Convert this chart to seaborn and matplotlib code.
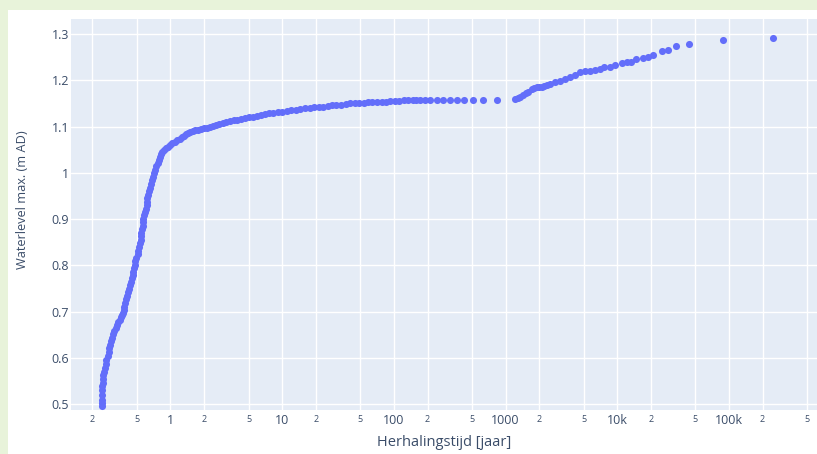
import matplotlib
matplotlib.use("Agg")
import matplotlib.pyplot as plt
from matplotlib.patches import Rectangle
from matplotlib.ticker import FixedLocator, FixedFormatter
import seaborn as sns
import pandas as pd

# Return period [years] and maximum water level [m AD]
return_period = [
    0.242, 0.2424, 0.243, 0.244, 0.245, 0.246, 0.247, 0.249, 0.251, 0.255,
    0.259, 0.263, 0.267, 0.273, 0.279, 0.283, 0.287, 0.293, 0.300, 0.306,
    0.312, 0.322, 0.332, 0.342, 0.353, 0.360, 0.368, 0.374, 0.380, 0.386,
    0.391, 0.399, 0.408, 0.416, 0.425, 0.434, 0.443, 0.450, 0.457, 0.464,
    0.471, 0.479, 0.486, 0.496, 0.507, 0.515, 0.522, 0.530, 0.539, 0.544,
    0.550, 0.556, 0.562, 0.567, 0.573, 0.582, 0.591, 0.600, 0.610, 0.616,
    0.622, 0.632, 0.642, 0.655, 0.669, 0.683, 0.697, 0.711, 0.727, 0.745,
    0.765, 0.785, 0.805, 0.826, 0.848,
    0.878, 0.911, 0.950, 0.990, 1.042, 1.097, 1.155, 1.216, 1.268, 1.321,
    1.377, 1.435, 1.510, 1.590, 1.674, 1.763,
    1.875, 1.995, 2.122, 2.257, 2.401, 2.555, 2.746, 2.951, 3.172, 3.410,
    3.665, 3.938, 4.277, 4.645, 5.044, 5.478, 5.949, 6.460, 7.015, 7.617,
    8.358, 9.171, 10.06, 11.04, 12.11, 13.29, 14.58, 16.00, 17.56, 19.27,
    21.14, 23.20, 25.45, 27.92, 30.63, 33.61, 36.88, 40.46, 44.40, 48.72,
    53.45, 58.64, 64.34, 70.60, 77.47, 85.00, 93.25, 102.3, 112.2, 123.1,
    135.1, 148.3, 159.3, 171.2, 189.8, 210.5, 241.6, 276.9, 318.0, 365.0,
    424.2, 507.5, 623.7, 832.4,
    1214, 1291, 1345, 1441, 1522, 1597, 1712, 1796, 1898, 1991,
    2105, 2207, 2333, 2497, 2769, 3069, 3402, 3772, 4181, 4636,
    5138, 5695, 6314, 7001, 7602, 8602, 9537, 10950, 12140, 13270,
    14700, 17090, 18950, 21010, 24980, 28610, 33540, 44110, 88920, 246200,
]
waterlevel = [
    0.496, 0.503, 0.510, 0.520, 0.531, 0.539, 0.546, 0.555, 0.564, 0.571,
    0.579, 0.587, 0.596, 0.604, 0.613, 0.621, 0.628, 0.636, 0.643, 0.651,
    0.659, 0.665, 0.672, 0.677, 0.682, 0.688, 0.693, 0.698, 0.704, 0.711,
    0.719, 0.727, 0.734, 0.742, 0.749, 0.757, 0.764, 0.772, 0.780, 0.787,
    0.795, 0.802, 0.810, 0.817, 0.825, 0.832, 0.840, 0.848, 0.855, 0.863,
    0.870, 0.878, 0.885, 0.893, 0.900, 0.908, 0.916, 0.923, 0.931, 0.938,
    0.946, 0.953, 0.961, 0.968, 0.976, 0.984, 0.991, 0.999, 1.006, 1.014,
    1.021, 1.028, 1.034, 1.040, 1.045,
    1.050, 1.0538, 1.057, 1.0603, 1.0635, 1.0667, 1.070, 1.0732, 1.0765, 1.0797,
    1.083, 1.0862, 1.088, 1.0905, 1.0917, 1.0927,
    1.0943, 1.0959, 1.0975, 1.0991, 1.1013, 1.1035, 1.1057, 1.1078, 1.1100, 1.1121,
    1.1137, 1.1153, 1.1170, 1.1186, 1.1202, 1.1218, 1.1235, 1.1251, 1.1267, 1.1283,
    1.1299, 1.1315, 1.1326, 1.1337, 1.1348, 1.1359, 1.1375, 1.1391, 1.1402, 1.1413,
    1.1424, 1.1434, 1.1445, 1.1456, 1.1467, 1.1477, 1.1488, 1.1499, 1.1505, 1.1510,
    1.1516, 1.1521, 1.1526, 1.1531, 1.1537, 1.1542, 1.1548, 1.1553, 1.1559, 1.1564,
    1.1570, 1.1575, 1.1577, 1.1579, 1.1580, 1.1581, 1.1582, 1.1582, 1.1583, 1.1583,
    1.1583, 1.1583, 1.1583, 1.1583,
    1.1590, 1.1618, 1.1646, 1.1683, 1.1726, 1.1754, 1.1806, 1.1834, 1.1849, 1.1855,
    1.1862, 1.1877, 1.1892, 1.1927, 1.1957, 1.1985, 1.2022, 1.2078, 1.2121, 1.2179,
    1.2201, 1.2207, 1.2222, 1.2244, 1.2294, 1.2294, 1.2330, 1.2380, 1.2395, 1.2402,
    1.2460, 1.2475, 1.2510, 1.2553, 1.2626, 1.2654, 1.2734, 1.2778, 1.2877, 1.2920,
]

# Axis ticks
major_ticks = [1, 10, 100, 1000, 10000, 100000]
major_labels = ["1", "10", "100", "1000", "10k", "100k"]
minor_ticks = [0.2, 0.5, 2, 5, 20, 50, 200, 500, 2000, 5000,
               20000, 50000, 200000, 500000]
minor_labels = ["2", "5"] * 7
y_ticks = [0.5, 0.6, 0.7, 0.8, 0.9, 1.0, 1.1, 1.2, 1.3]
y_labels = ["0.5", "0.6", "0.7", "0.8", "0.9", "1", "1.1", "1.2", "1.3"]

df = pd.DataFrame({"T": return_period, "h": waterlevel})

sns.set_theme(style="white")
plt.rcParams["font.family"] = ["Open Sans", "DejaVu Sans"]

W, H = 817, 454
fig = plt.figure(figsize=(W / 100, H / 100), dpi=100)
fig.patch.set_facecolor("#e8f3da")
# white card behind the chart
card = Rectangle((8 / W, 0), 1, 1 - 10 / H, transform=fig.transFigure,
                 facecolor="white", edgecolor="none", zorder=-10)
fig.add_artist(card)

left, right, top, bottom = 71, 817, 19, 410
ax = fig.add_axes([left / W, 1 - bottom / H, (right - left) / W, (bottom - top) / H])
ax.set_zorder(1)
ax.set_facecolor("#e5ecf6")

sns.scatterplot(data=df, x="T", y="h", ax=ax, color="#636efa", s=26,
                linewidth=0, alpha=1.0, legend=False, zorder=3)

ax.set_xscale("log")
ax.set_xlim(0.1286, 613800)
ax.set_ylim(0.4879, 1.3324)

text_color = "#3b4d69"
ax.xaxis.set_major_locator(FixedLocator(major_ticks))
ax.xaxis.set_major_formatter(FixedFormatter(major_labels))
ax.xaxis.set_minor_locator(FixedLocator(minor_ticks))
ax.xaxis.set_minor_formatter(FixedFormatter(minor_labels))
ax.set_yticks(y_ticks)
ax.set_yticklabels(y_labels)

ax.tick_params(axis="x", which="major", length=0, pad=3.0, labelsize=9, labelcolor=text_color)
ax.tick_params(axis="x", which="minor", length=0, pad=3.4, labelsize=6.5, labelcolor=text_color)
ax.tick_params(axis="y", length=0, pad=1.5, labelsize=9, labelcolor=text_color)

ax.grid(True, which="both", color="white", linewidth=1.0)
ax.set_axisbelow(True)
for s in ax.spines.values():
    s.set_visible(False)

ax.set_xlabel("Herhalingstijd [jaar]", fontsize=10.5, color=text_color)
ax.set_ylabel("Waterlevel max. (m AD)", fontsize=9.2, color=text_color)
ax.xaxis.set_label_coords(0.5, -(443 - bottom) / (bottom - top))
ax.xaxis.label.set_verticalalignment("center")
ax.yaxis.set_label_coords(-(left - 23) / (right - left), 0.537)
ax.yaxis.label.set_verticalalignment("center")

fig.savefig("out.png", dpi=100, facecolor=fig.get_facecolor())
